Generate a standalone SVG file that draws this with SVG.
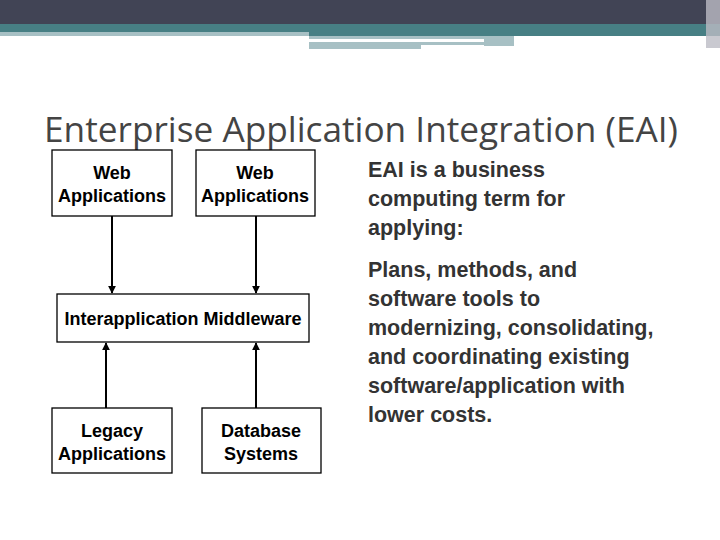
<svg xmlns="http://www.w3.org/2000/svg" width="720" height="540" viewBox="0 0 720 540">
<style>
.b{fill:#fff;stroke:#000;stroke-width:1.3}
.t{font-family:"Liberation Sans",Arial,sans-serif;font-size:18px;font-weight:bold;text-anchor:middle;fill:#000}
.r{font-family:"Liberation Sans",Arial,sans-serif;font-size:21.5px;font-weight:bold;fill:#333}
.c{stroke:#000;stroke-width:2;fill:none;marker-end:url(#a)}
</style>
<defs><marker id="a" viewBox="0 0 10 10" refX="9" refY="5" markerWidth="4" markerHeight="4" orient="auto"><path d="M0,0L10,5L0,10z" fill="#000"/></marker></defs>
<rect width="720" height="540" fill="#fff"/>
<rect width="720" height="24" fill="#414455"/>
<rect y="24" width="720" height="8" fill="#477f84"/>
<rect y="32" width="309" height="4" fill="#a7c0c4"/>
<rect x="309" y="32" width="411" height="4" fill="#477f84"/>
<rect x="309" y="36" width="175" height="3" fill="#a7c0c4"/>
<rect x="309" y="42" width="175" height="3" fill="#a7c0c4"/>
<rect x="309" y="45" width="112" height="4" fill="#a7c0c4"/>
<rect x="484" y="36" width="30" height="10" fill="#a7c0c4"/>
<rect x="706" y="0" width="14" height="48" fill="#bcbcc4" opacity="0.8"/>
<text x="44" y="142" font-family="'Open Sans','DejaVu Sans',sans-serif" font-size="34" fill="#444" textLength="634" lengthAdjust="spacingAndGlyphs">Enterprise Application Integration (EAI)</text>
<g id="connectors">
<line class="c" x1="112" y1="216" x2="112" y2="293"/>
<line class="c" x1="256" y1="216" x2="256" y2="293"/>
<line class="c" x1="106" y1="408" x2="106" y2="343"/>
<line class="c" x1="256" y1="408" x2="256" y2="343"/>
</g>
<g id="web1"><rect class="b" x="52" y="150" width="120" height="66"/><text class="t" x="112" y="179">Web</text><text class="t" x="112" y="202">Applications</text></g>
<g id="web2"><rect class="b" x="196" y="150" width="119" height="66"/><text class="t" x="255" y="179">Web</text><text class="t" x="255" y="202">Applications</text></g>
<g id="middleware"><rect class="b" x="57" y="294" width="252" height="48"/><text class="t" x="183" y="325" font-size="16">Interapplication Middleware</text></g>
<g id="legacy"><rect class="b" x="52" y="408" width="120" height="65"/><text class="t" x="112" y="437">Legacy</text><text class="t" x="112" y="460">Applications</text></g>
<g id="database"><rect class="b" x="202" y="408" width="119" height="65"/><text class="t" x="261" y="437">Database</text><text class="t" x="261" y="460">Systems</text></g>
<g id="desc">
<text class="r" x="368" y="177">EAI is a business</text>
<text class="r" x="368" y="206">computing term for</text>
<text class="r" x="368" y="235">applying:</text>
<text class="r" x="368" y="277">Plans, methods, and</text>
<text class="r" x="368" y="306">software tools to</text>
<text class="r" x="368" y="335">modernizing, consolidating,</text>
<text class="r" x="368" y="364">and coordinating existing</text>
<text class="r" x="368" y="393">software/application with</text>
<text class="r" x="368" y="422">lower costs.</text>
</g>
</svg>
